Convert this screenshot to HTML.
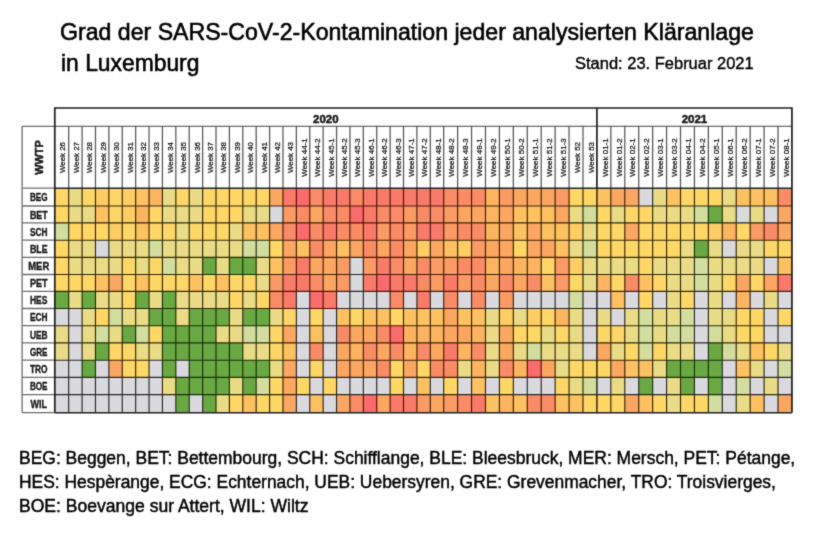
<!DOCTYPE html>
<html><head><meta charset="utf-8"><title>SARS-CoV-2 Kontamination</title>
<style>
html,body{margin:0;padding:0;background:#fff;}
body{width:820px;height:546px;position:relative;overflow:hidden;font-family:"Liberation Sans",sans-serif;color:#000;}
.t{position:absolute;white-space:nowrap;transform-origin:0 0;line-height:1;filter:url(#tb);}
.title{-webkit-text-stroke:0.6px #000;}
.sub{-webkit-text-stroke:0.4px #000;}
.foot{-webkit-text-stroke:0.45px #000;}
</style></head><body>
<svg width="820" height="546" viewBox="0 0 820 546" style="position:absolute;left:0;top:0;filter:url(#sb)">
<defs><filter id="sb" x="0" y="0" width="100%" height="100%" color-interpolation-filters="sRGB"><feConvolveMatrix order="3" kernelMatrix="0.02 0.09 0.02 0.09 0.56 0.09 0.02 0.09 0.02" edgeMode="duplicate" preserveAlpha="false"/></filter><filter id="tb" x="-2%" y="-15%" width="104%" height="130%" color-interpolation-filters="sRGB"><feConvolveMatrix order="3" kernelMatrix="0.02 0.09 0.02 0.09 0.56 0.09 0.02 0.09 0.02" edgeMode="none" preserveAlpha="false"/></filter></defs>
<g shape-rendering="crispEdges">
<rect x="54.80" y="188.20" width="14.19" height="18.10" fill="#ffd766"/>
<rect x="68.69" y="188.20" width="13.69" height="18.10" fill="#eadc86"/>
<rect x="82.09" y="188.20" width="13.69" height="18.10" fill="#ffd766"/>
<rect x="95.48" y="188.20" width="13.69" height="18.10" fill="#fecd63"/>
<rect x="108.87" y="188.20" width="13.69" height="18.10" fill="#ffd766"/>
<rect x="122.26" y="188.20" width="13.69" height="18.10" fill="#fecd63"/>
<rect x="135.66" y="188.20" width="13.69" height="18.10" fill="#fdc161"/>
<rect x="149.05" y="188.20" width="13.69" height="18.10" fill="#fcb461"/>
<rect x="162.44" y="188.20" width="13.69" height="18.10" fill="#eadc86"/>
<rect x="175.83" y="188.20" width="13.69" height="18.10" fill="#ffd766"/>
<rect x="189.23" y="188.20" width="13.69" height="18.10" fill="#eadc86"/>
<rect x="202.62" y="188.20" width="13.69" height="18.10" fill="#ffd766"/>
<rect x="216.01" y="188.20" width="13.69" height="18.10" fill="#ffd766"/>
<rect x="229.41" y="188.20" width="13.69" height="18.10" fill="#ffd766"/>
<rect x="242.80" y="188.20" width="13.69" height="18.10" fill="#ffd766"/>
<rect x="256.19" y="188.20" width="13.69" height="18.10" fill="#ffd766"/>
<rect x="269.58" y="188.20" width="13.69" height="18.10" fill="#fba762"/>
<rect x="282.98" y="188.20" width="13.69" height="18.10" fill="#f87b6a"/>
<rect x="296.37" y="188.20" width="13.69" height="18.10" fill="#f86c6c"/>
<rect x="309.76" y="188.20" width="13.69" height="18.10" fill="#f98c67"/>
<rect x="323.16" y="188.20" width="13.69" height="18.10" fill="#f87b6a"/>
<rect x="336.55" y="188.20" width="13.69" height="18.10" fill="#f87b6a"/>
<rect x="349.94" y="188.20" width="13.69" height="18.10" fill="#f98c67"/>
<rect x="363.33" y="188.20" width="13.69" height="18.10" fill="#f87b6a"/>
<rect x="376.73" y="188.20" width="13.69" height="18.10" fill="#f87b6a"/>
<rect x="390.12" y="188.20" width="13.69" height="18.10" fill="#f87b6a"/>
<rect x="403.51" y="188.20" width="13.69" height="18.10" fill="#f87b6a"/>
<rect x="416.90" y="188.20" width="13.69" height="18.10" fill="#f87b6a"/>
<rect x="430.30" y="188.20" width="13.69" height="18.10" fill="#f87b6a"/>
<rect x="443.69" y="188.20" width="14.23" height="18.10" fill="#f98c67"/>
<rect x="457.62" y="188.20" width="14.23" height="18.10" fill="#f98c67"/>
<rect x="471.55" y="188.20" width="14.23" height="18.10" fill="#f98c67"/>
<rect x="485.48" y="188.20" width="14.23" height="18.10" fill="#fcb461"/>
<rect x="499.41" y="188.20" width="14.23" height="18.10" fill="#fa9a64"/>
<rect x="513.34" y="188.20" width="14.23" height="18.10" fill="#fba762"/>
<rect x="527.27" y="188.20" width="14.23" height="18.10" fill="#fba762"/>
<rect x="541.20" y="188.20" width="14.23" height="18.10" fill="#fba762"/>
<rect x="555.13" y="188.20" width="14.23" height="18.10" fill="#fa9a64"/>
<rect x="569.06" y="188.20" width="14.23" height="18.10" fill="#ffd766"/>
<rect x="582.99" y="188.20" width="14.23" height="18.10" fill="#ffd766"/>
<rect x="596.92" y="188.20" width="14.23" height="18.10" fill="#fdc161"/>
<rect x="610.85" y="188.20" width="14.23" height="18.10" fill="#fba762"/>
<rect x="624.78" y="188.20" width="14.23" height="18.10" fill="#fba762"/>
<rect x="638.71" y="188.20" width="14.23" height="18.10" fill="#d9d9de"/>
<rect x="652.64" y="188.20" width="14.23" height="18.10" fill="#eadc86"/>
<rect x="666.57" y="188.20" width="14.23" height="18.10" fill="#fdc161"/>
<rect x="680.50" y="188.20" width="14.23" height="18.10" fill="#ffd766"/>
<rect x="694.43" y="188.20" width="14.23" height="18.10" fill="#ffd766"/>
<rect x="708.36" y="188.20" width="14.23" height="18.10" fill="#ffd766"/>
<rect x="722.29" y="188.20" width="14.23" height="18.10" fill="#eadc86"/>
<rect x="736.22" y="188.20" width="14.23" height="18.10" fill="#fdc161"/>
<rect x="750.15" y="188.20" width="14.23" height="18.10" fill="#fdc161"/>
<rect x="764.08" y="188.20" width="14.23" height="18.10" fill="#fdc161"/>
<rect x="778.01" y="188.20" width="14.23" height="18.10" fill="#f98c67"/>
<rect x="54.80" y="206.00" width="14.19" height="17.10" fill="#ffd766"/>
<rect x="68.69" y="206.00" width="13.69" height="17.10" fill="#eadc86"/>
<rect x="82.09" y="206.00" width="13.69" height="17.10" fill="#eadc86"/>
<rect x="95.48" y="206.00" width="13.69" height="17.10" fill="#fdc161"/>
<rect x="108.87" y="206.00" width="13.69" height="17.10" fill="#ffd766"/>
<rect x="122.26" y="206.00" width="13.69" height="17.10" fill="#fecd63"/>
<rect x="135.66" y="206.00" width="13.69" height="17.10" fill="#fcb461"/>
<rect x="149.05" y="206.00" width="13.69" height="17.10" fill="#ffd766"/>
<rect x="162.44" y="206.00" width="13.69" height="17.10" fill="#eadc86"/>
<rect x="175.83" y="206.00" width="13.69" height="17.10" fill="#eadc86"/>
<rect x="189.23" y="206.00" width="13.69" height="17.10" fill="#eadc86"/>
<rect x="202.62" y="206.00" width="13.69" height="17.10" fill="#ffd766"/>
<rect x="216.01" y="206.00" width="13.69" height="17.10" fill="#ffd766"/>
<rect x="229.41" y="206.00" width="13.69" height="17.10" fill="#ffd766"/>
<rect x="242.80" y="206.00" width="13.69" height="17.10" fill="#eadc86"/>
<rect x="256.19" y="206.00" width="13.69" height="17.10" fill="#eadc86"/>
<rect x="269.58" y="206.00" width="13.69" height="17.10" fill="#d9d9de"/>
<rect x="282.98" y="206.00" width="13.69" height="17.10" fill="#fa9a64"/>
<rect x="296.37" y="206.00" width="13.69" height="17.10" fill="#f98c67"/>
<rect x="309.76" y="206.00" width="13.69" height="17.10" fill="#fba762"/>
<rect x="323.16" y="206.00" width="13.69" height="17.10" fill="#f98c67"/>
<rect x="336.55" y="206.00" width="13.69" height="17.10" fill="#f98c67"/>
<rect x="349.94" y="206.00" width="13.69" height="17.10" fill="#f86c6c"/>
<rect x="363.33" y="206.00" width="13.69" height="17.10" fill="#f87b6a"/>
<rect x="376.73" y="206.00" width="13.69" height="17.10" fill="#f98c67"/>
<rect x="390.12" y="206.00" width="13.69" height="17.10" fill="#f98c67"/>
<rect x="403.51" y="206.00" width="13.69" height="17.10" fill="#fa9a64"/>
<rect x="416.90" y="206.00" width="13.69" height="17.10" fill="#f98c67"/>
<rect x="430.30" y="206.00" width="13.69" height="17.10" fill="#f98c67"/>
<rect x="443.69" y="206.00" width="14.23" height="17.10" fill="#fa9a64"/>
<rect x="457.62" y="206.00" width="14.23" height="17.10" fill="#fba762"/>
<rect x="471.55" y="206.00" width="14.23" height="17.10" fill="#fba762"/>
<rect x="485.48" y="206.00" width="14.23" height="17.10" fill="#fcb461"/>
<rect x="499.41" y="206.00" width="14.23" height="17.10" fill="#fba762"/>
<rect x="513.34" y="206.00" width="14.23" height="17.10" fill="#fdc161"/>
<rect x="527.27" y="206.00" width="14.23" height="17.10" fill="#fdc161"/>
<rect x="541.20" y="206.00" width="14.23" height="17.10" fill="#fdc161"/>
<rect x="555.13" y="206.00" width="14.23" height="17.10" fill="#fba762"/>
<rect x="569.06" y="206.00" width="14.23" height="17.10" fill="#eadc86"/>
<rect x="582.99" y="206.00" width="14.23" height="17.10" fill="#d3dda0"/>
<rect x="596.92" y="206.00" width="14.23" height="17.10" fill="#ffd766"/>
<rect x="610.85" y="206.00" width="14.23" height="17.10" fill="#eadc86"/>
<rect x="624.78" y="206.00" width="14.23" height="17.10" fill="#ffd766"/>
<rect x="638.71" y="206.00" width="14.23" height="17.10" fill="#ffd766"/>
<rect x="652.64" y="206.00" width="14.23" height="17.10" fill="#eadc86"/>
<rect x="666.57" y="206.00" width="14.23" height="17.10" fill="#eadc86"/>
<rect x="680.50" y="206.00" width="14.23" height="17.10" fill="#eadc86"/>
<rect x="694.43" y="206.00" width="14.23" height="17.10" fill="#d3dda0"/>
<rect x="708.36" y="206.00" width="14.23" height="17.10" fill="#6aa843"/>
<rect x="722.29" y="206.00" width="14.23" height="17.10" fill="#eadc86"/>
<rect x="736.22" y="206.00" width="14.23" height="17.10" fill="#d9d9de"/>
<rect x="750.15" y="206.00" width="14.23" height="17.10" fill="#eadc86"/>
<rect x="764.08" y="206.00" width="14.23" height="17.10" fill="#d9d9de"/>
<rect x="778.01" y="206.00" width="14.23" height="17.10" fill="#fba762"/>
<rect x="54.80" y="222.80" width="14.19" height="17.70" fill="#d3dda0"/>
<rect x="68.69" y="222.80" width="13.69" height="17.70" fill="#ffd766"/>
<rect x="82.09" y="222.80" width="13.69" height="17.70" fill="#ffd766"/>
<rect x="95.48" y="222.80" width="13.69" height="17.70" fill="#ffd766"/>
<rect x="108.87" y="222.80" width="13.69" height="17.70" fill="#fecd63"/>
<rect x="122.26" y="222.80" width="13.69" height="17.70" fill="#ffd766"/>
<rect x="135.66" y="222.80" width="13.69" height="17.70" fill="#fdc161"/>
<rect x="149.05" y="222.80" width="13.69" height="17.70" fill="#ffd766"/>
<rect x="162.44" y="222.80" width="13.69" height="17.70" fill="#ffd766"/>
<rect x="175.83" y="222.80" width="13.69" height="17.70" fill="#eadc86"/>
<rect x="189.23" y="222.80" width="13.69" height="17.70" fill="#ffd766"/>
<rect x="202.62" y="222.80" width="13.69" height="17.70" fill="#ffd766"/>
<rect x="216.01" y="222.80" width="13.69" height="17.70" fill="#ffd766"/>
<rect x="229.41" y="222.80" width="13.69" height="17.70" fill="#eadc86"/>
<rect x="242.80" y="222.80" width="13.69" height="17.70" fill="#fdc161"/>
<rect x="256.19" y="222.80" width="13.69" height="17.70" fill="#fdc161"/>
<rect x="269.58" y="222.80" width="13.69" height="17.70" fill="#fba762"/>
<rect x="282.98" y="222.80" width="13.69" height="17.70" fill="#f98c67"/>
<rect x="296.37" y="222.80" width="13.69" height="17.70" fill="#f86c6c"/>
<rect x="309.76" y="222.80" width="13.69" height="17.70" fill="#f98c67"/>
<rect x="323.16" y="222.80" width="13.69" height="17.70" fill="#f87b6a"/>
<rect x="336.55" y="222.80" width="13.69" height="17.70" fill="#f98c67"/>
<rect x="349.94" y="222.80" width="13.69" height="17.70" fill="#f98c67"/>
<rect x="363.33" y="222.80" width="13.69" height="17.70" fill="#f87b6a"/>
<rect x="376.73" y="222.80" width="13.69" height="17.70" fill="#fa9a64"/>
<rect x="390.12" y="222.80" width="13.69" height="17.70" fill="#f98c67"/>
<rect x="403.51" y="222.80" width="13.69" height="17.70" fill="#fa9a64"/>
<rect x="416.90" y="222.80" width="13.69" height="17.70" fill="#f87b6a"/>
<rect x="430.30" y="222.80" width="13.69" height="17.70" fill="#f87b6a"/>
<rect x="443.69" y="222.80" width="14.23" height="17.70" fill="#fa9a64"/>
<rect x="457.62" y="222.80" width="14.23" height="17.70" fill="#f98c67"/>
<rect x="471.55" y="222.80" width="14.23" height="17.70" fill="#f98c67"/>
<rect x="485.48" y="222.80" width="14.23" height="17.70" fill="#fcb461"/>
<rect x="499.41" y="222.80" width="14.23" height="17.70" fill="#fba762"/>
<rect x="513.34" y="222.80" width="14.23" height="17.70" fill="#fdc161"/>
<rect x="527.27" y="222.80" width="14.23" height="17.70" fill="#fba762"/>
<rect x="541.20" y="222.80" width="14.23" height="17.70" fill="#fdc161"/>
<rect x="555.13" y="222.80" width="14.23" height="17.70" fill="#fdc161"/>
<rect x="569.06" y="222.80" width="14.23" height="17.70" fill="#fecd63"/>
<rect x="582.99" y="222.80" width="14.23" height="17.70" fill="#eadc86"/>
<rect x="596.92" y="222.80" width="14.23" height="17.70" fill="#ffd766"/>
<rect x="610.85" y="222.80" width="14.23" height="17.70" fill="#ffd766"/>
<rect x="624.78" y="222.80" width="14.23" height="17.70" fill="#fba762"/>
<rect x="638.71" y="222.80" width="14.23" height="17.70" fill="#ffd766"/>
<rect x="652.64" y="222.80" width="14.23" height="17.70" fill="#ffd766"/>
<rect x="666.57" y="222.80" width="14.23" height="17.70" fill="#ffd766"/>
<rect x="680.50" y="222.80" width="14.23" height="17.70" fill="#ffd766"/>
<rect x="694.43" y="222.80" width="14.23" height="17.70" fill="#ffd766"/>
<rect x="708.36" y="222.80" width="14.23" height="17.70" fill="#fecd63"/>
<rect x="722.29" y="222.80" width="14.23" height="17.70" fill="#fcb461"/>
<rect x="736.22" y="222.80" width="14.23" height="17.70" fill="#ffd766"/>
<rect x="750.15" y="222.80" width="14.23" height="17.70" fill="#fa9a64"/>
<rect x="764.08" y="222.80" width="14.23" height="17.70" fill="#f98c67"/>
<rect x="778.01" y="222.80" width="14.23" height="17.70" fill="#fba762"/>
<rect x="54.80" y="240.20" width="14.19" height="17.50" fill="#ffd766"/>
<rect x="68.69" y="240.20" width="13.69" height="17.50" fill="#eadc86"/>
<rect x="82.09" y="240.20" width="13.69" height="17.50" fill="#eadc86"/>
<rect x="95.48" y="240.20" width="13.69" height="17.50" fill="#d9d9de"/>
<rect x="108.87" y="240.20" width="13.69" height="17.50" fill="#eadc86"/>
<rect x="122.26" y="240.20" width="13.69" height="17.50" fill="#eadc86"/>
<rect x="135.66" y="240.20" width="13.69" height="17.50" fill="#eadc86"/>
<rect x="149.05" y="240.20" width="13.69" height="17.50" fill="#d3dda0"/>
<rect x="162.44" y="240.20" width="13.69" height="17.50" fill="#eadc86"/>
<rect x="175.83" y="240.20" width="13.69" height="17.50" fill="#eadc86"/>
<rect x="189.23" y="240.20" width="13.69" height="17.50" fill="#eadc86"/>
<rect x="202.62" y="240.20" width="13.69" height="17.50" fill="#eadc86"/>
<rect x="216.01" y="240.20" width="13.69" height="17.50" fill="#eadc86"/>
<rect x="229.41" y="240.20" width="13.69" height="17.50" fill="#eadc86"/>
<rect x="242.80" y="240.20" width="13.69" height="17.50" fill="#d3dda0"/>
<rect x="256.19" y="240.20" width="13.69" height="17.50" fill="#d3dda0"/>
<rect x="269.58" y="240.20" width="13.69" height="17.50" fill="#ffd766"/>
<rect x="282.98" y="240.20" width="13.69" height="17.50" fill="#fba762"/>
<rect x="296.37" y="240.20" width="13.69" height="17.50" fill="#fdc161"/>
<rect x="309.76" y="240.20" width="13.69" height="17.50" fill="#f98c67"/>
<rect x="323.16" y="240.20" width="13.69" height="17.50" fill="#fba762"/>
<rect x="336.55" y="240.20" width="13.69" height="17.50" fill="#fdc161"/>
<rect x="349.94" y="240.20" width="13.69" height="17.50" fill="#fba762"/>
<rect x="363.33" y="240.20" width="13.69" height="17.50" fill="#f98c67"/>
<rect x="376.73" y="240.20" width="13.69" height="17.50" fill="#fba762"/>
<rect x="390.12" y="240.20" width="13.69" height="17.50" fill="#f98c67"/>
<rect x="403.51" y="240.20" width="13.69" height="17.50" fill="#fba762"/>
<rect x="416.90" y="240.20" width="13.69" height="17.50" fill="#fecd63"/>
<rect x="430.30" y="240.20" width="13.69" height="17.50" fill="#fba762"/>
<rect x="443.69" y="240.20" width="14.23" height="17.50" fill="#fdc161"/>
<rect x="457.62" y="240.20" width="14.23" height="17.50" fill="#fecd63"/>
<rect x="471.55" y="240.20" width="14.23" height="17.50" fill="#fa9a64"/>
<rect x="485.48" y="240.20" width="14.23" height="17.50" fill="#fba762"/>
<rect x="499.41" y="240.20" width="14.23" height="17.50" fill="#fba762"/>
<rect x="513.34" y="240.20" width="14.23" height="17.50" fill="#ffd766"/>
<rect x="527.27" y="240.20" width="14.23" height="17.50" fill="#fba762"/>
<rect x="541.20" y="240.20" width="14.23" height="17.50" fill="#fba762"/>
<rect x="555.13" y="240.20" width="14.23" height="17.50" fill="#fdc161"/>
<rect x="569.06" y="240.20" width="14.23" height="17.50" fill="#eadc86"/>
<rect x="582.99" y="240.20" width="14.23" height="17.50" fill="#d3dda0"/>
<rect x="596.92" y="240.20" width="14.23" height="17.50" fill="#ffd766"/>
<rect x="610.85" y="240.20" width="14.23" height="17.50" fill="#ffd766"/>
<rect x="624.78" y="240.20" width="14.23" height="17.50" fill="#ffd766"/>
<rect x="638.71" y="240.20" width="14.23" height="17.50" fill="#ffd766"/>
<rect x="652.64" y="240.20" width="14.23" height="17.50" fill="#ffd766"/>
<rect x="666.57" y="240.20" width="14.23" height="17.50" fill="#ffd766"/>
<rect x="680.50" y="240.20" width="14.23" height="17.50" fill="#eadc86"/>
<rect x="694.43" y="240.20" width="14.23" height="17.50" fill="#6aa843"/>
<rect x="708.36" y="240.20" width="14.23" height="17.50" fill="#eadc86"/>
<rect x="722.29" y="240.20" width="14.23" height="17.50" fill="#d9d9de"/>
<rect x="736.22" y="240.20" width="14.23" height="17.50" fill="#eadc86"/>
<rect x="750.15" y="240.20" width="14.23" height="17.50" fill="#eadc86"/>
<rect x="764.08" y="240.20" width="14.23" height="17.50" fill="#ffd766"/>
<rect x="778.01" y="240.20" width="14.23" height="17.50" fill="#ffd766"/>
<rect x="54.80" y="257.40" width="14.19" height="17.40" fill="#ffd766"/>
<rect x="68.69" y="257.40" width="13.69" height="17.40" fill="#eadc86"/>
<rect x="82.09" y="257.40" width="13.69" height="17.40" fill="#eadc86"/>
<rect x="95.48" y="257.40" width="13.69" height="17.40" fill="#eadc86"/>
<rect x="108.87" y="257.40" width="13.69" height="17.40" fill="#eadc86"/>
<rect x="122.26" y="257.40" width="13.69" height="17.40" fill="#ffd766"/>
<rect x="135.66" y="257.40" width="13.69" height="17.40" fill="#eadc86"/>
<rect x="149.05" y="257.40" width="13.69" height="17.40" fill="#ffd766"/>
<rect x="162.44" y="257.40" width="13.69" height="17.40" fill="#d3dda0"/>
<rect x="175.83" y="257.40" width="13.69" height="17.40" fill="#eadc86"/>
<rect x="189.23" y="257.40" width="13.69" height="17.40" fill="#eadc86"/>
<rect x="202.62" y="257.40" width="13.69" height="17.40" fill="#6aa843"/>
<rect x="216.01" y="257.40" width="13.69" height="17.40" fill="#eadc86"/>
<rect x="229.41" y="257.40" width="13.69" height="17.40" fill="#6aa843"/>
<rect x="242.80" y="257.40" width="13.69" height="17.40" fill="#6aa843"/>
<rect x="256.19" y="257.40" width="13.69" height="17.40" fill="#eadc86"/>
<rect x="269.58" y="257.40" width="13.69" height="17.40" fill="#fdc161"/>
<rect x="282.98" y="257.40" width="13.69" height="17.40" fill="#fa9a64"/>
<rect x="296.37" y="257.40" width="13.69" height="17.40" fill="#f87b6a"/>
<rect x="309.76" y="257.40" width="13.69" height="17.40" fill="#fba762"/>
<rect x="323.16" y="257.40" width="13.69" height="17.40" fill="#fba762"/>
<rect x="336.55" y="257.40" width="13.69" height="17.40" fill="#fa9a64"/>
<rect x="349.94" y="257.40" width="13.69" height="17.40" fill="#d9d9de"/>
<rect x="363.33" y="257.40" width="13.69" height="17.40" fill="#fa9a64"/>
<rect x="376.73" y="257.40" width="13.69" height="17.40" fill="#f87b6a"/>
<rect x="390.12" y="257.40" width="13.69" height="17.40" fill="#f98c67"/>
<rect x="403.51" y="257.40" width="13.69" height="17.40" fill="#fba762"/>
<rect x="416.90" y="257.40" width="13.69" height="17.40" fill="#f98c67"/>
<rect x="430.30" y="257.40" width="13.69" height="17.40" fill="#fa9a64"/>
<rect x="443.69" y="257.40" width="14.23" height="17.40" fill="#fa9a64"/>
<rect x="457.62" y="257.40" width="14.23" height="17.40" fill="#f98c67"/>
<rect x="471.55" y="257.40" width="14.23" height="17.40" fill="#f98c67"/>
<rect x="485.48" y="257.40" width="14.23" height="17.40" fill="#fcb461"/>
<rect x="499.41" y="257.40" width="14.23" height="17.40" fill="#fba762"/>
<rect x="513.34" y="257.40" width="14.23" height="17.40" fill="#fcb461"/>
<rect x="527.27" y="257.40" width="14.23" height="17.40" fill="#fcb461"/>
<rect x="541.20" y="257.40" width="14.23" height="17.40" fill="#ffd766"/>
<rect x="555.13" y="257.40" width="14.23" height="17.40" fill="#fa9a64"/>
<rect x="569.06" y="257.40" width="14.23" height="17.40" fill="#fecd63"/>
<rect x="582.99" y="257.40" width="14.23" height="17.40" fill="#eadc86"/>
<rect x="596.92" y="257.40" width="14.23" height="17.40" fill="#eadc86"/>
<rect x="610.85" y="257.40" width="14.23" height="17.40" fill="#eadc86"/>
<rect x="624.78" y="257.40" width="14.23" height="17.40" fill="#eadc86"/>
<rect x="638.71" y="257.40" width="14.23" height="17.40" fill="#ffd766"/>
<rect x="652.64" y="257.40" width="14.23" height="17.40" fill="#eadc86"/>
<rect x="666.57" y="257.40" width="14.23" height="17.40" fill="#eadc86"/>
<rect x="680.50" y="257.40" width="14.23" height="17.40" fill="#eadc86"/>
<rect x="694.43" y="257.40" width="14.23" height="17.40" fill="#d3dda0"/>
<rect x="708.36" y="257.40" width="14.23" height="17.40" fill="#eadc86"/>
<rect x="722.29" y="257.40" width="14.23" height="17.40" fill="#eadc86"/>
<rect x="736.22" y="257.40" width="14.23" height="17.40" fill="#eadc86"/>
<rect x="750.15" y="257.40" width="14.23" height="17.40" fill="#eadc86"/>
<rect x="764.08" y="257.40" width="14.23" height="17.40" fill="#d9d9de"/>
<rect x="778.01" y="257.40" width="14.23" height="17.40" fill="#fdc161"/>
<rect x="54.80" y="274.50" width="14.19" height="17.20" fill="#ffd766"/>
<rect x="68.69" y="274.50" width="13.69" height="17.20" fill="#ffd766"/>
<rect x="82.09" y="274.50" width="13.69" height="17.20" fill="#ffd766"/>
<rect x="95.48" y="274.50" width="13.69" height="17.20" fill="#fdc161"/>
<rect x="108.87" y="274.50" width="13.69" height="17.20" fill="#fba762"/>
<rect x="122.26" y="274.50" width="13.69" height="17.20" fill="#ffd766"/>
<rect x="135.66" y="274.50" width="13.69" height="17.20" fill="#fdc161"/>
<rect x="149.05" y="274.50" width="13.69" height="17.20" fill="#ffd766"/>
<rect x="162.44" y="274.50" width="13.69" height="17.20" fill="#ffd766"/>
<rect x="175.83" y="274.50" width="13.69" height="17.20" fill="#ffd766"/>
<rect x="189.23" y="274.50" width="13.69" height="17.20" fill="#fdc161"/>
<rect x="202.62" y="274.50" width="13.69" height="17.20" fill="#ffd766"/>
<rect x="216.01" y="274.50" width="13.69" height="17.20" fill="#fdc161"/>
<rect x="229.41" y="274.50" width="13.69" height="17.20" fill="#ffd766"/>
<rect x="242.80" y="274.50" width="13.69" height="17.20" fill="#ffd766"/>
<rect x="256.19" y="274.50" width="13.69" height="17.20" fill="#eadc86"/>
<rect x="269.58" y="274.50" width="13.69" height="17.20" fill="#fa9a64"/>
<rect x="282.98" y="274.50" width="13.69" height="17.20" fill="#f87b6a"/>
<rect x="296.37" y="274.50" width="13.69" height="17.20" fill="#f87b6a"/>
<rect x="309.76" y="274.50" width="13.69" height="17.20" fill="#f98c67"/>
<rect x="323.16" y="274.50" width="13.69" height="17.20" fill="#fba762"/>
<rect x="336.55" y="274.50" width="13.69" height="17.20" fill="#fa9a64"/>
<rect x="349.94" y="274.50" width="13.69" height="17.20" fill="#d9d9de"/>
<rect x="363.33" y="274.50" width="13.69" height="17.20" fill="#f87b6a"/>
<rect x="376.73" y="274.50" width="13.69" height="17.20" fill="#f86c6c"/>
<rect x="390.12" y="274.50" width="13.69" height="17.20" fill="#f87b6a"/>
<rect x="403.51" y="274.50" width="13.69" height="17.20" fill="#f87b6a"/>
<rect x="416.90" y="274.50" width="13.69" height="17.20" fill="#f98c67"/>
<rect x="430.30" y="274.50" width="13.69" height="17.20" fill="#fa9a64"/>
<rect x="443.69" y="274.50" width="14.23" height="17.20" fill="#f87b6a"/>
<rect x="457.62" y="274.50" width="14.23" height="17.20" fill="#fa9a64"/>
<rect x="471.55" y="274.50" width="14.23" height="17.20" fill="#f98c67"/>
<rect x="485.48" y="274.50" width="14.23" height="17.20" fill="#fba762"/>
<rect x="499.41" y="274.50" width="14.23" height="17.20" fill="#f98c67"/>
<rect x="513.34" y="274.50" width="14.23" height="17.20" fill="#fba762"/>
<rect x="527.27" y="274.50" width="14.23" height="17.20" fill="#f98c67"/>
<rect x="541.20" y="274.50" width="14.23" height="17.20" fill="#fdc161"/>
<rect x="555.13" y="274.50" width="14.23" height="17.20" fill="#fa9a64"/>
<rect x="569.06" y="274.50" width="14.23" height="17.20" fill="#ffd766"/>
<rect x="582.99" y="274.50" width="14.23" height="17.20" fill="#eadc86"/>
<rect x="596.92" y="274.50" width="14.23" height="17.20" fill="#fcb461"/>
<rect x="610.85" y="274.50" width="14.23" height="17.20" fill="#ffd766"/>
<rect x="624.78" y="274.50" width="14.23" height="17.20" fill="#f98c67"/>
<rect x="638.71" y="274.50" width="14.23" height="17.20" fill="#fdc161"/>
<rect x="652.64" y="274.50" width="14.23" height="17.20" fill="#ffd766"/>
<rect x="666.57" y="274.50" width="14.23" height="17.20" fill="#eadc86"/>
<rect x="680.50" y="274.50" width="14.23" height="17.20" fill="#eadc86"/>
<rect x="694.43" y="274.50" width="14.23" height="17.20" fill="#d3dda0"/>
<rect x="708.36" y="274.50" width="14.23" height="17.20" fill="#eadc86"/>
<rect x="722.29" y="274.50" width="14.23" height="17.20" fill="#ffd766"/>
<rect x="736.22" y="274.50" width="14.23" height="17.20" fill="#fba762"/>
<rect x="750.15" y="274.50" width="14.23" height="17.20" fill="#ffd766"/>
<rect x="764.08" y="274.50" width="14.23" height="17.20" fill="#fba762"/>
<rect x="778.01" y="274.50" width="14.23" height="17.20" fill="#f87b6a"/>
<rect x="54.80" y="291.40" width="14.19" height="17.40" fill="#6aa843"/>
<rect x="68.69" y="291.40" width="13.69" height="17.40" fill="#eadc86"/>
<rect x="82.09" y="291.40" width="13.69" height="17.40" fill="#6aa843"/>
<rect x="95.48" y="291.40" width="13.69" height="17.40" fill="#eadc86"/>
<rect x="108.87" y="291.40" width="13.69" height="17.40" fill="#eadc86"/>
<rect x="122.26" y="291.40" width="13.69" height="17.40" fill="#ffd766"/>
<rect x="135.66" y="291.40" width="13.69" height="17.40" fill="#6aa843"/>
<rect x="149.05" y="291.40" width="13.69" height="17.40" fill="#eadc86"/>
<rect x="162.44" y="291.40" width="13.69" height="17.40" fill="#6aa843"/>
<rect x="175.83" y="291.40" width="13.69" height="17.40" fill="#eadc86"/>
<rect x="189.23" y="291.40" width="13.69" height="17.40" fill="#eadc86"/>
<rect x="202.62" y="291.40" width="13.69" height="17.40" fill="#eadc86"/>
<rect x="216.01" y="291.40" width="13.69" height="17.40" fill="#eadc86"/>
<rect x="229.41" y="291.40" width="13.69" height="17.40" fill="#ffd766"/>
<rect x="242.80" y="291.40" width="13.69" height="17.40" fill="#eadc86"/>
<rect x="256.19" y="291.40" width="13.69" height="17.40" fill="#ffd766"/>
<rect x="269.58" y="291.40" width="13.69" height="17.40" fill="#f98c67"/>
<rect x="282.98" y="291.40" width="13.69" height="17.40" fill="#f87b6a"/>
<rect x="296.37" y="291.40" width="13.69" height="17.40" fill="#d9d9de"/>
<rect x="309.76" y="291.40" width="13.69" height="17.40" fill="#f86c6c"/>
<rect x="323.16" y="291.40" width="13.69" height="17.40" fill="#f87b6a"/>
<rect x="336.55" y="291.40" width="13.69" height="17.40" fill="#d9d9de"/>
<rect x="349.94" y="291.40" width="13.69" height="17.40" fill="#d9d9de"/>
<rect x="363.33" y="291.40" width="13.69" height="17.40" fill="#d9d9de"/>
<rect x="376.73" y="291.40" width="13.69" height="17.40" fill="#d9d9de"/>
<rect x="390.12" y="291.40" width="13.69" height="17.40" fill="#f98c67"/>
<rect x="403.51" y="291.40" width="13.69" height="17.40" fill="#d9d9de"/>
<rect x="416.90" y="291.40" width="13.69" height="17.40" fill="#f87b6a"/>
<rect x="430.30" y="291.40" width="13.69" height="17.40" fill="#d9d9de"/>
<rect x="443.69" y="291.40" width="14.23" height="17.40" fill="#f98c67"/>
<rect x="457.62" y="291.40" width="14.23" height="17.40" fill="#d9d9de"/>
<rect x="471.55" y="291.40" width="14.23" height="17.40" fill="#f98c67"/>
<rect x="485.48" y="291.40" width="14.23" height="17.40" fill="#d9d9de"/>
<rect x="499.41" y="291.40" width="14.23" height="17.40" fill="#fa9a64"/>
<rect x="513.34" y="291.40" width="14.23" height="17.40" fill="#d9d9de"/>
<rect x="527.27" y="291.40" width="14.23" height="17.40" fill="#d9d9de"/>
<rect x="541.20" y="291.40" width="14.23" height="17.40" fill="#d9d9de"/>
<rect x="555.13" y="291.40" width="14.23" height="17.40" fill="#d9d9de"/>
<rect x="569.06" y="291.40" width="14.23" height="17.40" fill="#d3dda0"/>
<rect x="582.99" y="291.40" width="14.23" height="17.40" fill="#d9d9de"/>
<rect x="596.92" y="291.40" width="14.23" height="17.40" fill="#d9d9de"/>
<rect x="610.85" y="291.40" width="14.23" height="17.40" fill="#fdc161"/>
<rect x="624.78" y="291.40" width="14.23" height="17.40" fill="#d9d9de"/>
<rect x="638.71" y="291.40" width="14.23" height="17.40" fill="#ffd766"/>
<rect x="652.64" y="291.40" width="14.23" height="17.40" fill="#d9d9de"/>
<rect x="666.57" y="291.40" width="14.23" height="17.40" fill="#eadc86"/>
<rect x="680.50" y="291.40" width="14.23" height="17.40" fill="#ffd766"/>
<rect x="694.43" y="291.40" width="14.23" height="17.40" fill="#d9d9de"/>
<rect x="708.36" y="291.40" width="14.23" height="17.40" fill="#eadc86"/>
<rect x="722.29" y="291.40" width="14.23" height="17.40" fill="#d9d9de"/>
<rect x="736.22" y="291.40" width="14.23" height="17.40" fill="#fcb461"/>
<rect x="750.15" y="291.40" width="14.23" height="17.40" fill="#d9d9de"/>
<rect x="764.08" y="291.40" width="14.23" height="17.40" fill="#eadc86"/>
<rect x="778.01" y="291.40" width="14.23" height="17.40" fill="#d9d9de"/>
<rect x="54.80" y="308.50" width="14.19" height="17.50" fill="#d9d9de"/>
<rect x="68.69" y="308.50" width="13.69" height="17.50" fill="#d9d9de"/>
<rect x="82.09" y="308.50" width="13.69" height="17.50" fill="#eadc86"/>
<rect x="95.48" y="308.50" width="13.69" height="17.50" fill="#ffd766"/>
<rect x="108.87" y="308.50" width="13.69" height="17.50" fill="#d3dda0"/>
<rect x="122.26" y="308.50" width="13.69" height="17.50" fill="#eadc86"/>
<rect x="135.66" y="308.50" width="13.69" height="17.50" fill="#eadc86"/>
<rect x="149.05" y="308.50" width="13.69" height="17.50" fill="#6aa843"/>
<rect x="162.44" y="308.50" width="13.69" height="17.50" fill="#6aa843"/>
<rect x="175.83" y="308.50" width="13.69" height="17.50" fill="#eadc86"/>
<rect x="189.23" y="308.50" width="13.69" height="17.50" fill="#6aa843"/>
<rect x="202.62" y="308.50" width="13.69" height="17.50" fill="#6aa843"/>
<rect x="216.01" y="308.50" width="13.69" height="17.50" fill="#6aa843"/>
<rect x="229.41" y="308.50" width="13.69" height="17.50" fill="#eadc86"/>
<rect x="242.80" y="308.50" width="13.69" height="17.50" fill="#6aa843"/>
<rect x="256.19" y="308.50" width="13.69" height="17.50" fill="#6aa843"/>
<rect x="269.58" y="308.50" width="13.69" height="17.50" fill="#eadc86"/>
<rect x="282.98" y="308.50" width="13.69" height="17.50" fill="#ffd766"/>
<rect x="296.37" y="308.50" width="13.69" height="17.50" fill="#d9d9de"/>
<rect x="309.76" y="308.50" width="13.69" height="17.50" fill="#ffd766"/>
<rect x="323.16" y="308.50" width="13.69" height="17.50" fill="#d9d9de"/>
<rect x="336.55" y="308.50" width="13.69" height="17.50" fill="#fdc161"/>
<rect x="349.94" y="308.50" width="13.69" height="17.50" fill="#ffd766"/>
<rect x="363.33" y="308.50" width="13.69" height="17.50" fill="#fdc161"/>
<rect x="376.73" y="308.50" width="13.69" height="17.50" fill="#fdc161"/>
<rect x="390.12" y="308.50" width="13.69" height="17.50" fill="#ffd766"/>
<rect x="403.51" y="308.50" width="13.69" height="17.50" fill="#fdc161"/>
<rect x="416.90" y="308.50" width="13.69" height="17.50" fill="#fdc161"/>
<rect x="430.30" y="308.50" width="13.69" height="17.50" fill="#fdc161"/>
<rect x="443.69" y="308.50" width="14.23" height="17.50" fill="#fba762"/>
<rect x="457.62" y="308.50" width="14.23" height="17.50" fill="#fdc161"/>
<rect x="471.55" y="308.50" width="14.23" height="17.50" fill="#fdc161"/>
<rect x="485.48" y="308.50" width="14.23" height="17.50" fill="#eadc86"/>
<rect x="499.41" y="308.50" width="14.23" height="17.50" fill="#fecd63"/>
<rect x="513.34" y="308.50" width="14.23" height="17.50" fill="#eadc86"/>
<rect x="527.27" y="308.50" width="14.23" height="17.50" fill="#fecd63"/>
<rect x="541.20" y="308.50" width="14.23" height="17.50" fill="#ffd766"/>
<rect x="555.13" y="308.50" width="14.23" height="17.50" fill="#fcb461"/>
<rect x="569.06" y="308.50" width="14.23" height="17.50" fill="#eadc86"/>
<rect x="582.99" y="308.50" width="14.23" height="17.50" fill="#d9d9de"/>
<rect x="596.92" y="308.50" width="14.23" height="17.50" fill="#eadc86"/>
<rect x="610.85" y="308.50" width="14.23" height="17.50" fill="#d9d9de"/>
<rect x="624.78" y="308.50" width="14.23" height="17.50" fill="#eadc86"/>
<rect x="638.71" y="308.50" width="14.23" height="17.50" fill="#d3dda0"/>
<rect x="652.64" y="308.50" width="14.23" height="17.50" fill="#eadc86"/>
<rect x="666.57" y="308.50" width="14.23" height="17.50" fill="#eadc86"/>
<rect x="680.50" y="308.50" width="14.23" height="17.50" fill="#d3dda0"/>
<rect x="694.43" y="308.50" width="14.23" height="17.50" fill="#d9d9de"/>
<rect x="708.36" y="308.50" width="14.23" height="17.50" fill="#eadc86"/>
<rect x="722.29" y="308.50" width="14.23" height="17.50" fill="#eadc86"/>
<rect x="736.22" y="308.50" width="14.23" height="17.50" fill="#ffd766"/>
<rect x="750.15" y="308.50" width="14.23" height="17.50" fill="#ffd766"/>
<rect x="764.08" y="308.50" width="14.23" height="17.50" fill="#d9d9de"/>
<rect x="778.01" y="308.50" width="14.23" height="17.50" fill="#ffd766"/>
<rect x="54.80" y="325.70" width="14.19" height="17.50" fill="#eadc86"/>
<rect x="68.69" y="325.70" width="13.69" height="17.50" fill="#d9d9de"/>
<rect x="82.09" y="325.70" width="13.69" height="17.50" fill="#eadc86"/>
<rect x="95.48" y="325.70" width="13.69" height="17.50" fill="#d3dda0"/>
<rect x="108.87" y="325.70" width="13.69" height="17.50" fill="#eadc86"/>
<rect x="122.26" y="325.70" width="13.69" height="17.50" fill="#6aa843"/>
<rect x="135.66" y="325.70" width="13.69" height="17.50" fill="#d3dda0"/>
<rect x="149.05" y="325.70" width="13.69" height="17.50" fill="#ffd766"/>
<rect x="162.44" y="325.70" width="13.69" height="17.50" fill="#6aa843"/>
<rect x="175.83" y="325.70" width="13.69" height="17.50" fill="#6aa843"/>
<rect x="189.23" y="325.70" width="13.69" height="17.50" fill="#6aa843"/>
<rect x="202.62" y="325.70" width="13.69" height="17.50" fill="#6aa843"/>
<rect x="216.01" y="325.70" width="13.69" height="17.50" fill="#eadc86"/>
<rect x="229.41" y="325.70" width="13.69" height="17.50" fill="#eadc86"/>
<rect x="242.80" y="325.70" width="13.69" height="17.50" fill="#d3dda0"/>
<rect x="256.19" y="325.70" width="13.69" height="17.50" fill="#d3dda0"/>
<rect x="269.58" y="325.70" width="13.69" height="17.50" fill="#ffd766"/>
<rect x="282.98" y="325.70" width="13.69" height="17.50" fill="#fba762"/>
<rect x="296.37" y="325.70" width="13.69" height="17.50" fill="#d9d9de"/>
<rect x="309.76" y="325.70" width="13.69" height="17.50" fill="#fdc161"/>
<rect x="323.16" y="325.70" width="13.69" height="17.50" fill="#d9d9de"/>
<rect x="336.55" y="325.70" width="13.69" height="17.50" fill="#f98c67"/>
<rect x="349.94" y="325.70" width="13.69" height="17.50" fill="#fba762"/>
<rect x="363.33" y="325.70" width="13.69" height="17.50" fill="#fba762"/>
<rect x="376.73" y="325.70" width="13.69" height="17.50" fill="#f98c67"/>
<rect x="390.12" y="325.70" width="13.69" height="17.50" fill="#f86c6c"/>
<rect x="403.51" y="325.70" width="13.69" height="17.50" fill="#fcb461"/>
<rect x="416.90" y="325.70" width="13.69" height="17.50" fill="#fcb461"/>
<rect x="430.30" y="325.70" width="13.69" height="17.50" fill="#fcb461"/>
<rect x="443.69" y="325.70" width="14.23" height="17.50" fill="#fba762"/>
<rect x="457.62" y="325.70" width="14.23" height="17.50" fill="#fba762"/>
<rect x="471.55" y="325.70" width="14.23" height="17.50" fill="#fcb461"/>
<rect x="485.48" y="325.70" width="14.23" height="17.50" fill="#eadc86"/>
<rect x="499.41" y="325.70" width="14.23" height="17.50" fill="#fba762"/>
<rect x="513.34" y="325.70" width="14.23" height="17.50" fill="#ffd766"/>
<rect x="527.27" y="325.70" width="14.23" height="17.50" fill="#ffd766"/>
<rect x="541.20" y="325.70" width="14.23" height="17.50" fill="#eadc86"/>
<rect x="555.13" y="325.70" width="14.23" height="17.50" fill="#ffd766"/>
<rect x="569.06" y="325.70" width="14.23" height="17.50" fill="#eadc86"/>
<rect x="582.99" y="325.70" width="14.23" height="17.50" fill="#d9d9de"/>
<rect x="596.92" y="325.70" width="14.23" height="17.50" fill="#ffd766"/>
<rect x="610.85" y="325.70" width="14.23" height="17.50" fill="#ffd766"/>
<rect x="624.78" y="325.70" width="14.23" height="17.50" fill="#eadc86"/>
<rect x="638.71" y="325.70" width="14.23" height="17.50" fill="#d3dda0"/>
<rect x="652.64" y="325.70" width="14.23" height="17.50" fill="#eadc86"/>
<rect x="666.57" y="325.70" width="14.23" height="17.50" fill="#d3dda0"/>
<rect x="680.50" y="325.70" width="14.23" height="17.50" fill="#d3dda0"/>
<rect x="694.43" y="325.70" width="14.23" height="17.50" fill="#d9d9de"/>
<rect x="708.36" y="325.70" width="14.23" height="17.50" fill="#d3dda0"/>
<rect x="722.29" y="325.70" width="14.23" height="17.50" fill="#eadc86"/>
<rect x="736.22" y="325.70" width="14.23" height="17.50" fill="#ffd766"/>
<rect x="750.15" y="325.70" width="14.23" height="17.50" fill="#ffd766"/>
<rect x="764.08" y="325.70" width="14.23" height="17.50" fill="#d9d9de"/>
<rect x="778.01" y="325.70" width="14.23" height="17.50" fill="#d9d9de"/>
<rect x="54.80" y="342.90" width="14.19" height="17.60" fill="#eadc86"/>
<rect x="68.69" y="342.90" width="13.69" height="17.60" fill="#d9d9de"/>
<rect x="82.09" y="342.90" width="13.69" height="17.60" fill="#eadc86"/>
<rect x="95.48" y="342.90" width="13.69" height="17.60" fill="#6aa843"/>
<rect x="108.87" y="342.90" width="13.69" height="17.60" fill="#ffd766"/>
<rect x="122.26" y="342.90" width="13.69" height="17.60" fill="#ffd766"/>
<rect x="135.66" y="342.90" width="13.69" height="17.60" fill="#eadc86"/>
<rect x="149.05" y="342.90" width="13.69" height="17.60" fill="#eadc86"/>
<rect x="162.44" y="342.90" width="13.69" height="17.60" fill="#6aa843"/>
<rect x="175.83" y="342.90" width="13.69" height="17.60" fill="#6aa843"/>
<rect x="189.23" y="342.90" width="13.69" height="17.60" fill="#6aa843"/>
<rect x="202.62" y="342.90" width="13.69" height="17.60" fill="#6aa843"/>
<rect x="216.01" y="342.90" width="13.69" height="17.60" fill="#6aa843"/>
<rect x="229.41" y="342.90" width="13.69" height="17.60" fill="#6aa843"/>
<rect x="242.80" y="342.90" width="13.69" height="17.60" fill="#eadc86"/>
<rect x="256.19" y="342.90" width="13.69" height="17.60" fill="#eadc86"/>
<rect x="269.58" y="342.90" width="13.69" height="17.60" fill="#ffd766"/>
<rect x="282.98" y="342.90" width="13.69" height="17.60" fill="#fdc161"/>
<rect x="296.37" y="342.90" width="13.69" height="17.60" fill="#d9d9de"/>
<rect x="309.76" y="342.90" width="13.69" height="17.60" fill="#f98c67"/>
<rect x="323.16" y="342.90" width="13.69" height="17.60" fill="#d9d9de"/>
<rect x="336.55" y="342.90" width="13.69" height="17.60" fill="#fba762"/>
<rect x="349.94" y="342.90" width="13.69" height="17.60" fill="#fcb461"/>
<rect x="363.33" y="342.90" width="13.69" height="17.60" fill="#f98c67"/>
<rect x="376.73" y="342.90" width="13.69" height="17.60" fill="#fba762"/>
<rect x="390.12" y="342.90" width="13.69" height="17.60" fill="#f98c67"/>
<rect x="403.51" y="342.90" width="13.69" height="17.60" fill="#fcb461"/>
<rect x="416.90" y="342.90" width="13.69" height="17.60" fill="#f98c67"/>
<rect x="430.30" y="342.90" width="13.69" height="17.60" fill="#fba762"/>
<rect x="443.69" y="342.90" width="14.23" height="17.60" fill="#f87b6a"/>
<rect x="457.62" y="342.90" width="14.23" height="17.60" fill="#fcb461"/>
<rect x="471.55" y="342.90" width="14.23" height="17.60" fill="#f98c67"/>
<rect x="485.48" y="342.90" width="14.23" height="17.60" fill="#eadc86"/>
<rect x="499.41" y="342.90" width="14.23" height="17.60" fill="#fba762"/>
<rect x="513.34" y="342.90" width="14.23" height="17.60" fill="#eadc86"/>
<rect x="527.27" y="342.90" width="14.23" height="17.60" fill="#d3dda0"/>
<rect x="541.20" y="342.90" width="14.23" height="17.60" fill="#eadc86"/>
<rect x="555.13" y="342.90" width="14.23" height="17.60" fill="#eadc86"/>
<rect x="569.06" y="342.90" width="14.23" height="17.60" fill="#eadc86"/>
<rect x="582.99" y="342.90" width="14.23" height="17.60" fill="#d9d9de"/>
<rect x="596.92" y="342.90" width="14.23" height="17.60" fill="#fba762"/>
<rect x="610.85" y="342.90" width="14.23" height="17.60" fill="#eadc86"/>
<rect x="624.78" y="342.90" width="14.23" height="17.60" fill="#ffd766"/>
<rect x="638.71" y="342.90" width="14.23" height="17.60" fill="#d3dda0"/>
<rect x="652.64" y="342.90" width="14.23" height="17.60" fill="#ffd766"/>
<rect x="666.57" y="342.90" width="14.23" height="17.60" fill="#eadc86"/>
<rect x="680.50" y="342.90" width="14.23" height="17.60" fill="#eadc86"/>
<rect x="694.43" y="342.90" width="14.23" height="17.60" fill="#d9d9de"/>
<rect x="708.36" y="342.90" width="14.23" height="17.60" fill="#6aa843"/>
<rect x="722.29" y="342.90" width="14.23" height="17.60" fill="#d3dda0"/>
<rect x="736.22" y="342.90" width="14.23" height="17.60" fill="#eadc86"/>
<rect x="750.15" y="342.90" width="14.23" height="17.60" fill="#fdc161"/>
<rect x="764.08" y="342.90" width="14.23" height="17.60" fill="#ffd766"/>
<rect x="778.01" y="342.90" width="14.23" height="17.60" fill="#eadc86"/>
<rect x="54.80" y="360.20" width="14.19" height="17.50" fill="#d9d9de"/>
<rect x="68.69" y="360.20" width="13.69" height="17.50" fill="#d9d9de"/>
<rect x="82.09" y="360.20" width="13.69" height="17.50" fill="#6aa843"/>
<rect x="95.48" y="360.20" width="13.69" height="17.50" fill="#d9d9de"/>
<rect x="108.87" y="360.20" width="13.69" height="17.50" fill="#fba762"/>
<rect x="122.26" y="360.20" width="13.69" height="17.50" fill="#ffd766"/>
<rect x="135.66" y="360.20" width="13.69" height="17.50" fill="#ffd766"/>
<rect x="149.05" y="360.20" width="13.69" height="17.50" fill="#d9d9de"/>
<rect x="162.44" y="360.20" width="13.69" height="17.50" fill="#6aa843"/>
<rect x="175.83" y="360.20" width="13.69" height="17.50" fill="#d9d9de"/>
<rect x="189.23" y="360.20" width="13.69" height="17.50" fill="#6aa843"/>
<rect x="202.62" y="360.20" width="13.69" height="17.50" fill="#6aa843"/>
<rect x="216.01" y="360.20" width="13.69" height="17.50" fill="#6aa843"/>
<rect x="229.41" y="360.20" width="13.69" height="17.50" fill="#6aa843"/>
<rect x="242.80" y="360.20" width="13.69" height="17.50" fill="#6aa843"/>
<rect x="256.19" y="360.20" width="13.69" height="17.50" fill="#6aa843"/>
<rect x="269.58" y="360.20" width="13.69" height="17.50" fill="#eadc86"/>
<rect x="282.98" y="360.20" width="13.69" height="17.50" fill="#fba762"/>
<rect x="296.37" y="360.20" width="13.69" height="17.50" fill="#d9d9de"/>
<rect x="309.76" y="360.20" width="13.69" height="17.50" fill="#ffd766"/>
<rect x="323.16" y="360.20" width="13.69" height="17.50" fill="#d9d9de"/>
<rect x="336.55" y="360.20" width="13.69" height="17.50" fill="#fba762"/>
<rect x="349.94" y="360.20" width="13.69" height="17.50" fill="#fba762"/>
<rect x="363.33" y="360.20" width="13.69" height="17.50" fill="#fba762"/>
<rect x="376.73" y="360.20" width="13.69" height="17.50" fill="#f98c67"/>
<rect x="390.12" y="360.20" width="13.69" height="17.50" fill="#ffd766"/>
<rect x="403.51" y="360.20" width="13.69" height="17.50" fill="#fba762"/>
<rect x="416.90" y="360.20" width="13.69" height="17.50" fill="#ffd766"/>
<rect x="430.30" y="360.20" width="13.69" height="17.50" fill="#f98c67"/>
<rect x="443.69" y="360.20" width="14.23" height="17.50" fill="#f98c67"/>
<rect x="457.62" y="360.20" width="14.23" height="17.50" fill="#eadc86"/>
<rect x="471.55" y="360.20" width="14.23" height="17.50" fill="#fcb461"/>
<rect x="485.48" y="360.20" width="14.23" height="17.50" fill="#eadc86"/>
<rect x="499.41" y="360.20" width="14.23" height="17.50" fill="#f98c67"/>
<rect x="513.34" y="360.20" width="14.23" height="17.50" fill="#fcb461"/>
<rect x="527.27" y="360.20" width="14.23" height="17.50" fill="#f86c6c"/>
<rect x="541.20" y="360.20" width="14.23" height="17.50" fill="#fba762"/>
<rect x="555.13" y="360.20" width="14.23" height="17.50" fill="#eadc86"/>
<rect x="569.06" y="360.20" width="14.23" height="17.50" fill="#ffd766"/>
<rect x="582.99" y="360.20" width="14.23" height="17.50" fill="#ffd766"/>
<rect x="596.92" y="360.20" width="14.23" height="17.50" fill="#ffd766"/>
<rect x="610.85" y="360.20" width="14.23" height="17.50" fill="#fba762"/>
<rect x="624.78" y="360.20" width="14.23" height="17.50" fill="#fdc161"/>
<rect x="638.71" y="360.20" width="14.23" height="17.50" fill="#fdc161"/>
<rect x="652.64" y="360.20" width="14.23" height="17.50" fill="#eadc86"/>
<rect x="666.57" y="360.20" width="14.23" height="17.50" fill="#6aa843"/>
<rect x="680.50" y="360.20" width="14.23" height="17.50" fill="#6aa843"/>
<rect x="694.43" y="360.20" width="14.23" height="17.50" fill="#6aa843"/>
<rect x="708.36" y="360.20" width="14.23" height="17.50" fill="#6aa843"/>
<rect x="722.29" y="360.20" width="14.23" height="17.50" fill="#d9d9de"/>
<rect x="736.22" y="360.20" width="14.23" height="17.50" fill="#fdc161"/>
<rect x="750.15" y="360.20" width="14.23" height="17.50" fill="#eadc86"/>
<rect x="764.08" y="360.20" width="14.23" height="17.50" fill="#d9d9de"/>
<rect x="778.01" y="360.20" width="14.23" height="17.50" fill="#d3dda0"/>
<rect x="54.80" y="377.40" width="14.19" height="17.50" fill="#d9d9de"/>
<rect x="68.69" y="377.40" width="13.69" height="17.50" fill="#d9d9de"/>
<rect x="82.09" y="377.40" width="13.69" height="17.50" fill="#d9d9de"/>
<rect x="95.48" y="377.40" width="13.69" height="17.50" fill="#d9d9de"/>
<rect x="108.87" y="377.40" width="13.69" height="17.50" fill="#d9d9de"/>
<rect x="122.26" y="377.40" width="13.69" height="17.50" fill="#d9d9de"/>
<rect x="135.66" y="377.40" width="13.69" height="17.50" fill="#d9d9de"/>
<rect x="149.05" y="377.40" width="13.69" height="17.50" fill="#d9d9de"/>
<rect x="162.44" y="377.40" width="13.69" height="17.50" fill="#eadc86"/>
<rect x="175.83" y="377.40" width="13.69" height="17.50" fill="#6aa843"/>
<rect x="189.23" y="377.40" width="13.69" height="17.50" fill="#6aa843"/>
<rect x="202.62" y="377.40" width="13.69" height="17.50" fill="#6aa843"/>
<rect x="216.01" y="377.40" width="13.69" height="17.50" fill="#6aa843"/>
<rect x="229.41" y="377.40" width="13.69" height="17.50" fill="#eadc86"/>
<rect x="242.80" y="377.40" width="13.69" height="17.50" fill="#6aa843"/>
<rect x="256.19" y="377.40" width="13.69" height="17.50" fill="#d3dda0"/>
<rect x="269.58" y="377.40" width="13.69" height="17.50" fill="#ffd766"/>
<rect x="282.98" y="377.40" width="13.69" height="17.50" fill="#fba762"/>
<rect x="296.37" y="377.40" width="13.69" height="17.50" fill="#ffd766"/>
<rect x="309.76" y="377.40" width="13.69" height="17.50" fill="#d9d9de"/>
<rect x="323.16" y="377.40" width="13.69" height="17.50" fill="#ffd766"/>
<rect x="336.55" y="377.40" width="13.69" height="17.50" fill="#d9d9de"/>
<rect x="349.94" y="377.40" width="13.69" height="17.50" fill="#d9d9de"/>
<rect x="363.33" y="377.40" width="13.69" height="17.50" fill="#d9d9de"/>
<rect x="376.73" y="377.40" width="13.69" height="17.50" fill="#d9d9de"/>
<rect x="390.12" y="377.40" width="13.69" height="17.50" fill="#ffd766"/>
<rect x="403.51" y="377.40" width="13.69" height="17.50" fill="#d9d9de"/>
<rect x="416.90" y="377.40" width="13.69" height="17.50" fill="#fdc161"/>
<rect x="430.30" y="377.40" width="13.69" height="17.50" fill="#d9d9de"/>
<rect x="443.69" y="377.40" width="14.23" height="17.50" fill="#ffd766"/>
<rect x="457.62" y="377.40" width="14.23" height="17.50" fill="#d9d9de"/>
<rect x="471.55" y="377.40" width="14.23" height="17.50" fill="#fdc161"/>
<rect x="485.48" y="377.40" width="14.23" height="17.50" fill="#d9d9de"/>
<rect x="499.41" y="377.40" width="14.23" height="17.50" fill="#ffd766"/>
<rect x="513.34" y="377.40" width="14.23" height="17.50" fill="#d9d9de"/>
<rect x="527.27" y="377.40" width="14.23" height="17.50" fill="#d9d9de"/>
<rect x="541.20" y="377.40" width="14.23" height="17.50" fill="#d9d9de"/>
<rect x="555.13" y="377.40" width="14.23" height="17.50" fill="#ffd766"/>
<rect x="569.06" y="377.40" width="14.23" height="17.50" fill="#eadc86"/>
<rect x="582.99" y="377.40" width="14.23" height="17.50" fill="#d3dda0"/>
<rect x="596.92" y="377.40" width="14.23" height="17.50" fill="#d9d9de"/>
<rect x="610.85" y="377.40" width="14.23" height="17.50" fill="#eadc86"/>
<rect x="624.78" y="377.40" width="14.23" height="17.50" fill="#d9d9de"/>
<rect x="638.71" y="377.40" width="14.23" height="17.50" fill="#6aa843"/>
<rect x="652.64" y="377.40" width="14.23" height="17.50" fill="#d9d9de"/>
<rect x="666.57" y="377.40" width="14.23" height="17.50" fill="#eadc86"/>
<rect x="680.50" y="377.40" width="14.23" height="17.50" fill="#6aa843"/>
<rect x="694.43" y="377.40" width="14.23" height="17.50" fill="#d9d9de"/>
<rect x="708.36" y="377.40" width="14.23" height="17.50" fill="#6aa843"/>
<rect x="722.29" y="377.40" width="14.23" height="17.50" fill="#d9d9de"/>
<rect x="736.22" y="377.40" width="14.23" height="17.50" fill="#d3dda0"/>
<rect x="750.15" y="377.40" width="14.23" height="17.50" fill="#d9d9de"/>
<rect x="764.08" y="377.40" width="14.23" height="17.50" fill="#eadc86"/>
<rect x="778.01" y="377.40" width="14.23" height="17.50" fill="#d9d9de"/>
<rect x="54.80" y="394.60" width="14.19" height="18.40" fill="#d9d9de"/>
<rect x="68.69" y="394.60" width="13.69" height="18.40" fill="#d9d9de"/>
<rect x="82.09" y="394.60" width="13.69" height="18.40" fill="#d9d9de"/>
<rect x="95.48" y="394.60" width="13.69" height="18.40" fill="#d9d9de"/>
<rect x="108.87" y="394.60" width="13.69" height="18.40" fill="#d9d9de"/>
<rect x="122.26" y="394.60" width="13.69" height="18.40" fill="#d9d9de"/>
<rect x="135.66" y="394.60" width="13.69" height="18.40" fill="#d9d9de"/>
<rect x="149.05" y="394.60" width="13.69" height="18.40" fill="#d9d9de"/>
<rect x="162.44" y="394.60" width="13.69" height="18.40" fill="#d9d9de"/>
<rect x="175.83" y="394.60" width="13.69" height="18.40" fill="#6aa843"/>
<rect x="189.23" y="394.60" width="13.69" height="18.40" fill="#d9d9de"/>
<rect x="202.62" y="394.60" width="13.69" height="18.40" fill="#6aa843"/>
<rect x="216.01" y="394.60" width="13.69" height="18.40" fill="#eadc86"/>
<rect x="229.41" y="394.60" width="13.69" height="18.40" fill="#ffd766"/>
<rect x="242.80" y="394.60" width="13.69" height="18.40" fill="#fdc161"/>
<rect x="256.19" y="394.60" width="13.69" height="18.40" fill="#ffd766"/>
<rect x="269.58" y="394.60" width="13.69" height="18.40" fill="#ffd766"/>
<rect x="282.98" y="394.60" width="13.69" height="18.40" fill="#fba762"/>
<rect x="296.37" y="394.60" width="13.69" height="18.40" fill="#d9d9de"/>
<rect x="309.76" y="394.60" width="13.69" height="18.40" fill="#fdc161"/>
<rect x="323.16" y="394.60" width="13.69" height="18.40" fill="#d9d9de"/>
<rect x="336.55" y="394.60" width="13.69" height="18.40" fill="#fba762"/>
<rect x="349.94" y="394.60" width="13.69" height="18.40" fill="#f98c67"/>
<rect x="363.33" y="394.60" width="13.69" height="18.40" fill="#f86c6c"/>
<rect x="376.73" y="394.60" width="13.69" height="18.40" fill="#fba762"/>
<rect x="390.12" y="394.60" width="13.69" height="18.40" fill="#f87b6a"/>
<rect x="403.51" y="394.60" width="13.69" height="18.40" fill="#f87b6a"/>
<rect x="416.90" y="394.60" width="13.69" height="18.40" fill="#fa9a64"/>
<rect x="430.30" y="394.60" width="13.69" height="18.40" fill="#fba762"/>
<rect x="443.69" y="394.60" width="14.23" height="18.40" fill="#fa9a64"/>
<rect x="457.62" y="394.60" width="14.23" height="18.40" fill="#f98c67"/>
<rect x="471.55" y="394.60" width="14.23" height="18.40" fill="#f87b6a"/>
<rect x="485.48" y="394.60" width="14.23" height="18.40" fill="#fdc161"/>
<rect x="499.41" y="394.60" width="14.23" height="18.40" fill="#fcb461"/>
<rect x="513.34" y="394.60" width="14.23" height="18.40" fill="#fdc161"/>
<rect x="527.27" y="394.60" width="14.23" height="18.40" fill="#f98c67"/>
<rect x="541.20" y="394.60" width="14.23" height="18.40" fill="#f98c67"/>
<rect x="555.13" y="394.60" width="14.23" height="18.40" fill="#fdc161"/>
<rect x="569.06" y="394.60" width="14.23" height="18.40" fill="#fdc161"/>
<rect x="582.99" y="394.60" width="14.23" height="18.40" fill="#ffd766"/>
<rect x="596.92" y="394.60" width="14.23" height="18.40" fill="#ffd766"/>
<rect x="610.85" y="394.60" width="14.23" height="18.40" fill="#ffd766"/>
<rect x="624.78" y="394.60" width="14.23" height="18.40" fill="#fba762"/>
<rect x="638.71" y="394.60" width="14.23" height="18.40" fill="#fdc161"/>
<rect x="652.64" y="394.60" width="14.23" height="18.40" fill="#ffd766"/>
<rect x="666.57" y="394.60" width="14.23" height="18.40" fill="#eadc86"/>
<rect x="680.50" y="394.60" width="14.23" height="18.40" fill="#ffd766"/>
<rect x="694.43" y="394.60" width="14.23" height="18.40" fill="#ffd766"/>
<rect x="708.36" y="394.60" width="14.23" height="18.40" fill="#d3dda0"/>
<rect x="722.29" y="394.60" width="14.23" height="18.40" fill="#d9d9de"/>
<rect x="736.22" y="394.60" width="14.23" height="18.40" fill="#eadc86"/>
<rect x="750.15" y="394.60" width="14.23" height="18.40" fill="#fdc161"/>
<rect x="764.08" y="394.60" width="14.23" height="18.40" fill="#d9d9de"/>
<rect x="778.01" y="394.60" width="14.23" height="18.40" fill="#fba762"/>
</g>
<path d="M68.69 188.20V412.70M82.09 188.20V412.70M95.48 188.20V412.70M108.87 188.20V412.70M122.26 188.20V412.70M135.66 188.20V412.70M149.05 188.20V412.70M162.44 188.20V412.70M175.83 188.20V412.70M189.23 188.20V412.70M202.62 188.20V412.70M216.01 188.20V412.70M229.41 188.20V412.70M242.80 188.20V412.70M256.19 188.20V412.70M269.58 188.20V412.70M282.98 188.20V412.70M296.37 188.20V412.70M309.76 188.20V412.70M323.16 188.20V412.70M336.55 188.20V412.70M349.94 188.20V412.70M363.33 188.20V412.70M376.73 188.20V412.70M390.12 188.20V412.70M403.51 188.20V412.70M416.90 188.20V412.70M430.30 188.20V412.70M443.69 188.20V412.70M457.62 188.20V412.70M471.55 188.20V412.70M485.48 188.20V412.70M499.41 188.20V412.70M513.34 188.20V412.70M527.27 188.20V412.70M541.20 188.20V412.70M555.13 188.20V412.70M569.06 188.20V412.70M582.99 188.20V412.70M596.92 188.20V412.70M610.85 188.20V412.70M624.78 188.20V412.70M638.71 188.20V412.70M652.64 188.20V412.70M666.57 188.20V412.70M680.50 188.20V412.70M694.43 188.20V412.70M708.36 188.20V412.70M722.29 188.20V412.70M736.22 188.20V412.70M750.15 188.20V412.70M764.08 188.20V412.70M778.01 188.20V412.70M54.80 206.00H791.94M54.80 222.80H791.94M54.80 240.20H791.94M54.80 257.40H791.94M54.80 274.50H791.94M54.80 291.40H791.94M54.80 308.50H791.94M54.80 325.70H791.94M54.80 342.90H791.94M54.80 360.20H791.94M54.80 377.40H791.94M54.80 394.60H791.94" fill="none" stroke="#1e1e1e" stroke-opacity="0.95" stroke-width="1.15" style="mix-blend-mode:luminosity"/>
<g stroke="#555" stroke-width="1.25">
<line x1="68.69" y1="126.30" x2="68.69" y2="188.20"/>
<line x1="82.09" y1="126.30" x2="82.09" y2="188.20"/>
<line x1="95.48" y1="126.30" x2="95.48" y2="188.20"/>
<line x1="108.87" y1="126.30" x2="108.87" y2="188.20"/>
<line x1="122.26" y1="126.30" x2="122.26" y2="188.20"/>
<line x1="135.66" y1="126.30" x2="135.66" y2="188.20"/>
<line x1="149.05" y1="126.30" x2="149.05" y2="188.20"/>
<line x1="162.44" y1="126.30" x2="162.44" y2="188.20"/>
<line x1="175.83" y1="126.30" x2="175.83" y2="188.20"/>
<line x1="189.23" y1="126.30" x2="189.23" y2="188.20"/>
<line x1="202.62" y1="126.30" x2="202.62" y2="188.20"/>
<line x1="216.01" y1="126.30" x2="216.01" y2="188.20"/>
<line x1="229.41" y1="126.30" x2="229.41" y2="188.20"/>
<line x1="242.80" y1="126.30" x2="242.80" y2="188.20"/>
<line x1="256.19" y1="126.30" x2="256.19" y2="188.20"/>
<line x1="269.58" y1="126.30" x2="269.58" y2="188.20"/>
<line x1="282.98" y1="126.30" x2="282.98" y2="188.20"/>
<line x1="296.37" y1="126.30" x2="296.37" y2="188.20"/>
<line x1="309.76" y1="126.30" x2="309.76" y2="188.20"/>
<line x1="323.16" y1="126.30" x2="323.16" y2="188.20"/>
<line x1="336.55" y1="126.30" x2="336.55" y2="188.20"/>
<line x1="349.94" y1="126.30" x2="349.94" y2="188.20"/>
<line x1="363.33" y1="126.30" x2="363.33" y2="188.20"/>
<line x1="376.73" y1="126.30" x2="376.73" y2="188.20"/>
<line x1="390.12" y1="126.30" x2="390.12" y2="188.20"/>
<line x1="403.51" y1="126.30" x2="403.51" y2="188.20"/>
<line x1="416.90" y1="126.30" x2="416.90" y2="188.20"/>
<line x1="430.30" y1="126.30" x2="430.30" y2="188.20"/>
<line x1="443.69" y1="126.30" x2="443.69" y2="188.20"/>
<line x1="457.62" y1="126.30" x2="457.62" y2="188.20"/>
<line x1="471.55" y1="126.30" x2="471.55" y2="188.20"/>
<line x1="485.48" y1="126.30" x2="485.48" y2="188.20"/>
<line x1="499.41" y1="126.30" x2="499.41" y2="188.20"/>
<line x1="513.34" y1="126.30" x2="513.34" y2="188.20"/>
<line x1="527.27" y1="126.30" x2="527.27" y2="188.20"/>
<line x1="541.20" y1="126.30" x2="541.20" y2="188.20"/>
<line x1="555.13" y1="126.30" x2="555.13" y2="188.20"/>
<line x1="569.06" y1="126.30" x2="569.06" y2="188.20"/>
<line x1="582.99" y1="126.30" x2="582.99" y2="188.20"/>
<line x1="610.85" y1="126.30" x2="610.85" y2="188.20"/>
<line x1="624.78" y1="126.30" x2="624.78" y2="188.20"/>
<line x1="638.71" y1="126.30" x2="638.71" y2="188.20"/>
<line x1="652.64" y1="126.30" x2="652.64" y2="188.20"/>
<line x1="666.57" y1="126.30" x2="666.57" y2="188.20"/>
<line x1="680.50" y1="126.30" x2="680.50" y2="188.20"/>
<line x1="694.43" y1="126.30" x2="694.43" y2="188.20"/>
<line x1="708.36" y1="126.30" x2="708.36" y2="188.20"/>
<line x1="722.29" y1="126.30" x2="722.29" y2="188.20"/>
<line x1="736.22" y1="126.30" x2="736.22" y2="188.20"/>
<line x1="750.15" y1="126.30" x2="750.15" y2="188.20"/>
<line x1="764.08" y1="126.30" x2="764.08" y2="188.20"/>
<line x1="778.01" y1="126.30" x2="778.01" y2="188.20"/>
</g>
<line x1="54.80" y1="126.30" x2="791.94" y2="126.30" stroke="#444" stroke-width="1.1"/>
<g stroke="#6e6e6e" stroke-width="1.3" fill="none">
<line x1="22.10" y1="126.30" x2="22.10" y2="412.70"/>
<line x1="22.10" y1="126.30" x2="54.80" y2="126.30"/>
<line x1="22.10" y1="188.20" x2="54.80" y2="188.20"/>
<line x1="22.10" y1="206.00" x2="54.80" y2="206.00"/>
<line x1="22.10" y1="222.80" x2="54.80" y2="222.80"/>
<line x1="22.10" y1="240.20" x2="54.80" y2="240.20"/>
<line x1="22.10" y1="257.40" x2="54.80" y2="257.40"/>
<line x1="22.10" y1="274.50" x2="54.80" y2="274.50"/>
<line x1="22.10" y1="291.40" x2="54.80" y2="291.40"/>
<line x1="22.10" y1="308.50" x2="54.80" y2="308.50"/>
<line x1="22.10" y1="325.70" x2="54.80" y2="325.70"/>
<line x1="22.10" y1="342.90" x2="54.80" y2="342.90"/>
<line x1="22.10" y1="360.20" x2="54.80" y2="360.20"/>
<line x1="22.10" y1="377.40" x2="54.80" y2="377.40"/>
<line x1="22.10" y1="394.60" x2="54.80" y2="394.60"/>
<line x1="22.10" y1="412.70" x2="54.80" y2="412.70"/>
</g>
<g stroke="#1e1e1e" stroke-width="1.7" fill="none">
<path d="M54.80 412.70 V108.00 H791.94 V412.70"/>
<line x1="596.92" y1="108.00" x2="596.92" y2="188.20"/>
<line x1="596.92" y1="188.20" x2="596.92" y2="412.70" stroke="#000" stroke-opacity="0.35" stroke-width="1.5"/>
</g>
<line x1="54.80" y1="188.20" x2="791.94" y2="188.20" stroke="#222" stroke-width="1.4"/>
<line x1="54.80" y1="412.70" x2="791.94" y2="412.70" stroke="#222" stroke-width="1.4"/>
<g font-family="Liberation Sans, sans-serif" fill="#1c1c1c">
<text x="325.86" y="122.7" font-size="11.8" font-weight="bold" stroke="#111" stroke-width="0.5" text-anchor="middle" textLength="25.5" lengthAdjust="spacingAndGlyphs">2020</text>
<text x="694.43" y="122.7" font-size="11.8" font-weight="bold" stroke="#111" stroke-width="0.5" text-anchor="middle" textLength="25.5" lengthAdjust="spacingAndGlyphs">2021</text>
<text transform="translate(42.75 157.45) rotate(-90)" font-size="10.6" font-weight="bold" stroke="#111" stroke-width="0.45" text-anchor="middle" textLength="34.5" lengthAdjust="spacingAndGlyphs">WWTP</text>
<text x="38.75" y="201.40" font-size="10.1" font-weight="bold" stroke="#111" stroke-width="0.35" text-anchor="middle" textLength="17.6" lengthAdjust="spacingAndGlyphs">BEG</text>
<text x="38.75" y="218.70" font-size="10.1" font-weight="bold" stroke="#111" stroke-width="0.35" text-anchor="middle" textLength="17.6" lengthAdjust="spacingAndGlyphs">BET</text>
<text x="38.75" y="235.80" font-size="10.1" font-weight="bold" stroke="#111" stroke-width="0.35" text-anchor="middle" textLength="17.6" lengthAdjust="spacingAndGlyphs">SCH</text>
<text x="38.75" y="253.10" font-size="10.1" font-weight="bold" stroke="#111" stroke-width="0.35" text-anchor="middle" textLength="17.6" lengthAdjust="spacingAndGlyphs">BLE</text>
<text x="38.75" y="270.25" font-size="10.1" font-weight="bold" stroke="#111" stroke-width="0.35" text-anchor="middle" textLength="21" lengthAdjust="spacingAndGlyphs">MER</text>
<text x="38.75" y="287.25" font-size="10.1" font-weight="bold" stroke="#111" stroke-width="0.35" text-anchor="middle" textLength="17.6" lengthAdjust="spacingAndGlyphs">PET</text>
<text x="38.75" y="304.25" font-size="10.1" font-weight="bold" stroke="#111" stroke-width="0.35" text-anchor="middle" textLength="17.6" lengthAdjust="spacingAndGlyphs">HES</text>
<text x="38.75" y="321.40" font-size="10.1" font-weight="bold" stroke="#111" stroke-width="0.35" text-anchor="middle" textLength="17.6" lengthAdjust="spacingAndGlyphs">ECH</text>
<text x="38.75" y="338.60" font-size="10.1" font-weight="bold" stroke="#111" stroke-width="0.35" text-anchor="middle" textLength="17.6" lengthAdjust="spacingAndGlyphs">UEB</text>
<text x="38.75" y="355.85" font-size="10.1" font-weight="bold" stroke="#111" stroke-width="0.35" text-anchor="middle" textLength="17.6" lengthAdjust="spacingAndGlyphs">GRE</text>
<text x="38.75" y="373.10" font-size="10.1" font-weight="bold" stroke="#111" stroke-width="0.35" text-anchor="middle" textLength="17.6" lengthAdjust="spacingAndGlyphs">TRO</text>
<text x="38.75" y="390.30" font-size="10.1" font-weight="bold" stroke="#111" stroke-width="0.35" text-anchor="middle" textLength="17.6" lengthAdjust="spacingAndGlyphs">BOE</text>
<text x="38.75" y="407.95" font-size="10.1" font-weight="bold" stroke="#111" stroke-width="0.35" text-anchor="middle" textLength="16.5" lengthAdjust="spacingAndGlyphs">WIL</text>
<text transform="translate(65.45 157.50) rotate(-90)" font-size="7.8" fill="#1c1c1c" stroke="#1c1c1c" stroke-width="0.28" text-anchor="middle" textLength="31.0" lengthAdjust="spacingAndGlyphs">Week 26</text>
<text transform="translate(79.09 157.50) rotate(-90)" font-size="7.8" fill="#1c1c1c" stroke="#1c1c1c" stroke-width="0.28" text-anchor="middle" textLength="31.0" lengthAdjust="spacingAndGlyphs">Week 27</text>
<text transform="translate(92.48 157.50) rotate(-90)" font-size="7.8" fill="#1c1c1c" stroke="#1c1c1c" stroke-width="0.28" text-anchor="middle" textLength="31.0" lengthAdjust="spacingAndGlyphs">Week 28</text>
<text transform="translate(105.87 157.50) rotate(-90)" font-size="7.8" fill="#1c1c1c" stroke="#1c1c1c" stroke-width="0.28" text-anchor="middle" textLength="31.0" lengthAdjust="spacingAndGlyphs">Week 29</text>
<text transform="translate(119.27 157.50) rotate(-90)" font-size="7.8" fill="#1c1c1c" stroke="#1c1c1c" stroke-width="0.28" text-anchor="middle" textLength="31.0" lengthAdjust="spacingAndGlyphs">Week 30</text>
<text transform="translate(132.66 157.50) rotate(-90)" font-size="7.8" fill="#1c1c1c" stroke="#1c1c1c" stroke-width="0.28" text-anchor="middle" textLength="31.0" lengthAdjust="spacingAndGlyphs">Week 31</text>
<text transform="translate(146.05 157.50) rotate(-90)" font-size="7.8" fill="#1c1c1c" stroke="#1c1c1c" stroke-width="0.28" text-anchor="middle" textLength="31.0" lengthAdjust="spacingAndGlyphs">Week 32</text>
<text transform="translate(159.45 157.50) rotate(-90)" font-size="7.8" fill="#1c1c1c" stroke="#1c1c1c" stroke-width="0.28" text-anchor="middle" textLength="31.0" lengthAdjust="spacingAndGlyphs">Week 33</text>
<text transform="translate(172.84 157.50) rotate(-90)" font-size="7.8" fill="#1c1c1c" stroke="#1c1c1c" stroke-width="0.28" text-anchor="middle" textLength="31.0" lengthAdjust="spacingAndGlyphs">Week 34</text>
<text transform="translate(186.23 157.50) rotate(-90)" font-size="7.8" fill="#1c1c1c" stroke="#1c1c1c" stroke-width="0.28" text-anchor="middle" textLength="31.0" lengthAdjust="spacingAndGlyphs">Week 35</text>
<text transform="translate(199.62 157.50) rotate(-90)" font-size="7.8" fill="#1c1c1c" stroke="#1c1c1c" stroke-width="0.28" text-anchor="middle" textLength="31.0" lengthAdjust="spacingAndGlyphs">Week 36</text>
<text transform="translate(213.02 157.50) rotate(-90)" font-size="7.8" fill="#1c1c1c" stroke="#1c1c1c" stroke-width="0.28" text-anchor="middle" textLength="31.0" lengthAdjust="spacingAndGlyphs">Week 37</text>
<text transform="translate(226.41 157.50) rotate(-90)" font-size="7.8" fill="#1c1c1c" stroke="#1c1c1c" stroke-width="0.28" text-anchor="middle" textLength="31.0" lengthAdjust="spacingAndGlyphs">Week 38</text>
<text transform="translate(239.80 157.50) rotate(-90)" font-size="7.8" fill="#1c1c1c" stroke="#1c1c1c" stroke-width="0.28" text-anchor="middle" textLength="31.0" lengthAdjust="spacingAndGlyphs">Week 39</text>
<text transform="translate(253.19 157.50) rotate(-90)" font-size="7.8" fill="#1c1c1c" stroke="#1c1c1c" stroke-width="0.28" text-anchor="middle" textLength="31.0" lengthAdjust="spacingAndGlyphs">Week 40</text>
<text transform="translate(266.59 157.50) rotate(-90)" font-size="7.8" fill="#1c1c1c" stroke="#1c1c1c" stroke-width="0.28" text-anchor="middle" textLength="31.0" lengthAdjust="spacingAndGlyphs">Week 41</text>
<text transform="translate(279.98 157.50) rotate(-90)" font-size="7.8" fill="#1c1c1c" stroke="#1c1c1c" stroke-width="0.28" text-anchor="middle" textLength="31.0" lengthAdjust="spacingAndGlyphs">Week 42</text>
<text transform="translate(293.37 157.50) rotate(-90)" font-size="7.8" fill="#1c1c1c" stroke="#1c1c1c" stroke-width="0.28" text-anchor="middle" textLength="31.0" lengthAdjust="spacingAndGlyphs">Week 43</text>
<text transform="translate(306.77 157.50) rotate(-90)" font-size="7.8" fill="#1c1c1c" stroke="#1c1c1c" stroke-width="0.28" text-anchor="middle" textLength="38.5" lengthAdjust="spacingAndGlyphs">Week 44-1</text>
<text transform="translate(320.16 157.50) rotate(-90)" font-size="7.8" fill="#1c1c1c" stroke="#1c1c1c" stroke-width="0.28" text-anchor="middle" textLength="38.5" lengthAdjust="spacingAndGlyphs">Week 44-2</text>
<text transform="translate(333.55 157.50) rotate(-90)" font-size="7.8" fill="#1c1c1c" stroke="#1c1c1c" stroke-width="0.28" text-anchor="middle" textLength="38.5" lengthAdjust="spacingAndGlyphs">Week 45-1</text>
<text transform="translate(346.94 157.50) rotate(-90)" font-size="7.8" fill="#1c1c1c" stroke="#1c1c1c" stroke-width="0.28" text-anchor="middle" textLength="38.5" lengthAdjust="spacingAndGlyphs">Week 45-2</text>
<text transform="translate(360.34 157.50) rotate(-90)" font-size="7.8" fill="#1c1c1c" stroke="#1c1c1c" stroke-width="0.28" text-anchor="middle" textLength="38.5" lengthAdjust="spacingAndGlyphs">Week 45-3</text>
<text transform="translate(373.73 157.50) rotate(-90)" font-size="7.8" fill="#1c1c1c" stroke="#1c1c1c" stroke-width="0.28" text-anchor="middle" textLength="38.5" lengthAdjust="spacingAndGlyphs">Week 46-1</text>
<text transform="translate(387.12 157.50) rotate(-90)" font-size="7.8" fill="#1c1c1c" stroke="#1c1c1c" stroke-width="0.28" text-anchor="middle" textLength="38.5" lengthAdjust="spacingAndGlyphs">Week 46-2</text>
<text transform="translate(400.52 157.50) rotate(-90)" font-size="7.8" fill="#1c1c1c" stroke="#1c1c1c" stroke-width="0.28" text-anchor="middle" textLength="38.5" lengthAdjust="spacingAndGlyphs">Week 46-3</text>
<text transform="translate(413.91 157.50) rotate(-90)" font-size="7.8" fill="#1c1c1c" stroke="#1c1c1c" stroke-width="0.28" text-anchor="middle" textLength="38.5" lengthAdjust="spacingAndGlyphs">Week 47-1</text>
<text transform="translate(427.30 157.50) rotate(-90)" font-size="7.8" fill="#1c1c1c" stroke="#1c1c1c" stroke-width="0.28" text-anchor="middle" textLength="38.5" lengthAdjust="spacingAndGlyphs">Week 47-2</text>
<text transform="translate(440.69 157.50) rotate(-90)" font-size="7.8" fill="#1c1c1c" stroke="#1c1c1c" stroke-width="0.28" text-anchor="middle" textLength="38.5" lengthAdjust="spacingAndGlyphs">Week 48-1</text>
<text transform="translate(454.35 157.50) rotate(-90)" font-size="7.8" fill="#1c1c1c" stroke="#1c1c1c" stroke-width="0.28" text-anchor="middle" textLength="38.5" lengthAdjust="spacingAndGlyphs">Week 48-2</text>
<text transform="translate(468.29 157.50) rotate(-90)" font-size="7.8" fill="#1c1c1c" stroke="#1c1c1c" stroke-width="0.28" text-anchor="middle" textLength="38.5" lengthAdjust="spacingAndGlyphs">Week 48-3</text>
<text transform="translate(482.21 157.50) rotate(-90)" font-size="7.8" fill="#1c1c1c" stroke="#1c1c1c" stroke-width="0.28" text-anchor="middle" textLength="38.5" lengthAdjust="spacingAndGlyphs">Week 49-1</text>
<text transform="translate(496.14 157.50) rotate(-90)" font-size="7.8" fill="#1c1c1c" stroke="#1c1c1c" stroke-width="0.28" text-anchor="middle" textLength="38.5" lengthAdjust="spacingAndGlyphs">Week 49-2</text>
<text transform="translate(510.07 157.50) rotate(-90)" font-size="7.8" fill="#1c1c1c" stroke="#1c1c1c" stroke-width="0.28" text-anchor="middle" textLength="38.5" lengthAdjust="spacingAndGlyphs">Week 50-1</text>
<text transform="translate(524.01 157.50) rotate(-90)" font-size="7.8" fill="#1c1c1c" stroke="#1c1c1c" stroke-width="0.28" text-anchor="middle" textLength="38.5" lengthAdjust="spacingAndGlyphs">Week 50-2</text>
<text transform="translate(537.94 157.50) rotate(-90)" font-size="7.8" fill="#1c1c1c" stroke="#1c1c1c" stroke-width="0.28" text-anchor="middle" textLength="38.5" lengthAdjust="spacingAndGlyphs">Week 51-1</text>
<text transform="translate(551.87 157.50) rotate(-90)" font-size="7.8" fill="#1c1c1c" stroke="#1c1c1c" stroke-width="0.28" text-anchor="middle" textLength="38.5" lengthAdjust="spacingAndGlyphs">Week 51-2</text>
<text transform="translate(565.80 157.50) rotate(-90)" font-size="7.8" fill="#1c1c1c" stroke="#1c1c1c" stroke-width="0.28" text-anchor="middle" textLength="38.5" lengthAdjust="spacingAndGlyphs">Week 51-3</text>
<text transform="translate(579.73 157.50) rotate(-90)" font-size="7.8" fill="#1c1c1c" stroke="#1c1c1c" stroke-width="0.28" text-anchor="middle" textLength="31.0" lengthAdjust="spacingAndGlyphs">Week 52</text>
<text transform="translate(593.65 157.50) rotate(-90)" font-size="7.8" fill="#1c1c1c" stroke="#1c1c1c" stroke-width="0.28" text-anchor="middle" textLength="31.0" lengthAdjust="spacingAndGlyphs">Week 53</text>
<text transform="translate(607.59 157.50) rotate(-90)" font-size="7.8" fill="#1c1c1c" stroke="#1c1c1c" stroke-width="0.28" text-anchor="middle" textLength="38.5" lengthAdjust="spacingAndGlyphs">Week 01-1</text>
<text transform="translate(621.52 157.50) rotate(-90)" font-size="7.8" fill="#1c1c1c" stroke="#1c1c1c" stroke-width="0.28" text-anchor="middle" textLength="38.5" lengthAdjust="spacingAndGlyphs">Week 01-2</text>
<text transform="translate(635.45 157.50) rotate(-90)" font-size="7.8" fill="#1c1c1c" stroke="#1c1c1c" stroke-width="0.28" text-anchor="middle" textLength="38.5" lengthAdjust="spacingAndGlyphs">Week 02-1</text>
<text transform="translate(649.38 157.50) rotate(-90)" font-size="7.8" fill="#1c1c1c" stroke="#1c1c1c" stroke-width="0.28" text-anchor="middle" textLength="38.5" lengthAdjust="spacingAndGlyphs">Week 02-2</text>
<text transform="translate(663.31 157.50) rotate(-90)" font-size="7.8" fill="#1c1c1c" stroke="#1c1c1c" stroke-width="0.28" text-anchor="middle" textLength="38.5" lengthAdjust="spacingAndGlyphs">Week 03-1</text>
<text transform="translate(677.24 157.50) rotate(-90)" font-size="7.8" fill="#1c1c1c" stroke="#1c1c1c" stroke-width="0.28" text-anchor="middle" textLength="38.5" lengthAdjust="spacingAndGlyphs">Week 03-2</text>
<text transform="translate(691.17 157.50) rotate(-90)" font-size="7.8" fill="#1c1c1c" stroke="#1c1c1c" stroke-width="0.28" text-anchor="middle" textLength="38.5" lengthAdjust="spacingAndGlyphs">Week 04-1</text>
<text transform="translate(705.10 157.50) rotate(-90)" font-size="7.8" fill="#1c1c1c" stroke="#1c1c1c" stroke-width="0.28" text-anchor="middle" textLength="38.5" lengthAdjust="spacingAndGlyphs">Week 04-2</text>
<text transform="translate(719.03 157.50) rotate(-90)" font-size="7.8" fill="#1c1c1c" stroke="#1c1c1c" stroke-width="0.28" text-anchor="middle" textLength="38.5" lengthAdjust="spacingAndGlyphs">Week 05-1</text>
<text transform="translate(732.96 157.50) rotate(-90)" font-size="7.8" fill="#1c1c1c" stroke="#1c1c1c" stroke-width="0.28" text-anchor="middle" textLength="38.5" lengthAdjust="spacingAndGlyphs">Week 06-1</text>
<text transform="translate(746.88 157.50) rotate(-90)" font-size="7.8" fill="#1c1c1c" stroke="#1c1c1c" stroke-width="0.28" text-anchor="middle" textLength="38.5" lengthAdjust="spacingAndGlyphs">Week 06-2</text>
<text transform="translate(760.82 157.50) rotate(-90)" font-size="7.8" fill="#1c1c1c" stroke="#1c1c1c" stroke-width="0.28" text-anchor="middle" textLength="38.5" lengthAdjust="spacingAndGlyphs">Week 07-1</text>
<text transform="translate(774.75 157.50) rotate(-90)" font-size="7.8" fill="#1c1c1c" stroke="#1c1c1c" stroke-width="0.28" text-anchor="middle" textLength="38.5" lengthAdjust="spacingAndGlyphs">Week 07-2</text>
<text transform="translate(788.68 157.50) rotate(-90)" font-size="7.8" fill="#1c1c1c" stroke="#1c1c1c" stroke-width="0.28" text-anchor="middle" textLength="38.5" lengthAdjust="spacingAndGlyphs">Week 08-1</text>
</g>
</svg>
<div class="t title" id="t1" style="left:60.07px;top:19.95px;font-size:24.5px;transform:scaleX(0.9435);">Grad der SARS-CoV-2-Kontamination jeder analysierten Kläranlage</div>
<div class="t title" id="t2" style="left:60.61px;top:51.25px;font-size:24.5px;transform:scaleX(0.9325);">in Luxemburg</div>
<div class="t sub" id="t3" style="left:575.45px;top:54.63px;font-size:17.3px;transform:scaleX(0.9538);">Stand: 23. Februar 2021</div>
<div class="t foot" id="f1" style="left:19.03px;top:449.45px;font-size:18px;transform:scaleX(0.9702);">BEG: Beggen, BET: Bettembourg, SCH: Schifflange, BLE: Bleesbruck, MER: Mersch, PET: Pétange,</div>
<div class="t foot" id="f2" style="left:19.03px;top:473.35px;font-size:18px;transform:scaleX(0.9679);">HES: Hespèrange, ECG: Echternach, UEB: Uebersyren, GRE: Grevenmacher, TRO: Troisvierges,</div>
<div class="t foot" id="f3" style="left:19.03px;top:497.05px;font-size:18px;transform:scaleX(0.9742);">BOE: Boevange sur Attert, WIL: Wiltz</div>
</body></html>
